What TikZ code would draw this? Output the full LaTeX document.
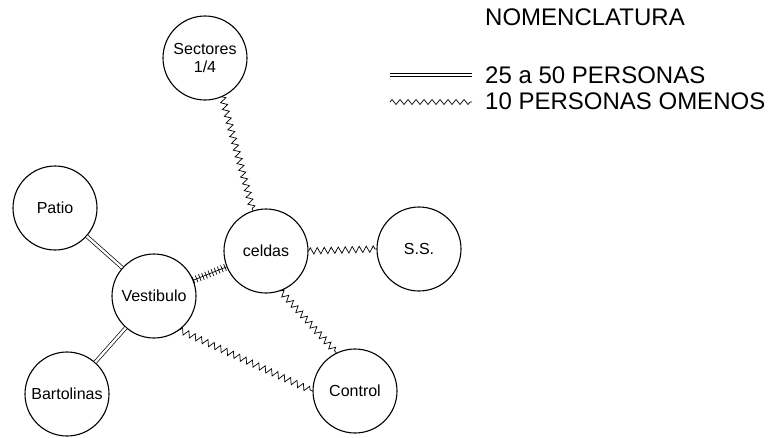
\documentclass[tikz,border=0pt]{standalone}
\usepackage{fontspec}
\setmainfont{Liberation Sans}
\usetikzlibrary{decorations.pathmorphing,decorations.pathreplacing}

\tikzset{
  room/.style={circle,draw,line width=1.1pt,minimum size=84pt,inner sep=0pt,font=\fontsize{16}{18}\selectfont},
  pocos/.style={decorate,decoration={zigzag,segment length=7pt,amplitude=3.2pt},line width=0.7pt},
  muchos/.style={double,double distance=2.4pt,line width=0.7pt},
  vias/.style={decorate,decoration={ticks,segment length=3.4pt,amplitude=3.6pt},line width=0.7pt},
  leyenda/.style={anchor=base west,inner sep=0pt,font=\fontsize{24}{26}\selectfont}
}

\begin{document}
\begin{tikzpicture}[x=1pt,y=-1pt]
\useasboundingbox (0,0) rectangle (781,437);
% salas
\node[room,align=center] (sectores) at (205,58) {Sectores\\1/4};
\node[room] (celdas) at (266,251) {celdas};
\node[room] (ss) at (419,249) {S.S.};
\node[room] (patio) at (55,208) {Patio};
\node[room] (vestibulo) at (154,296) {Vestibulo};
\node[room] (bartolinas) at (67,394) {Bartolinas};
\node[room] (control) at (355,391) {Control};
% conexiones
\draw[pocos] (sectores.-66) -- (celdas.108);
\draw[pocos] (celdas.east) -- (ss.west);
\draw[pocos] (celdas.-70) -- (control.116);
\draw[pocos] (vestibulo.-53) -- (control.west);
\draw[muchos] (patio) -- (vestibulo);
\draw[muchos] (bartolinas) -- (vestibulo);
\draw[line width=0.7pt] (vestibulo) -- (celdas);
\draw[vias] (vestibulo) -- (celdas);
% nomenclatura
\node[leyenda] (titulo) at (485,25) {NOMENCLATURA};
\coordinate (m1) at (390,75);
\coordinate (m2) at (472,75);
\coordinate (p1) at (390,102);
\coordinate (p2) at (472,102);
\draw[muchos,double distance=2pt] (m1) -- (m2);
\draw[decorate,decoration={zigzag,segment length=8pt,amplitude=2.5pt},line width=0.7pt] (p1) -- (p2);
\node[leyenda] (muchostxt) at (485,83) {25 a 50 PERSONAS};
\node[leyenda] (pocostxt) at (485,109) {10 PERSONAS OMENOS};
\end{tikzpicture}
\end{document}
